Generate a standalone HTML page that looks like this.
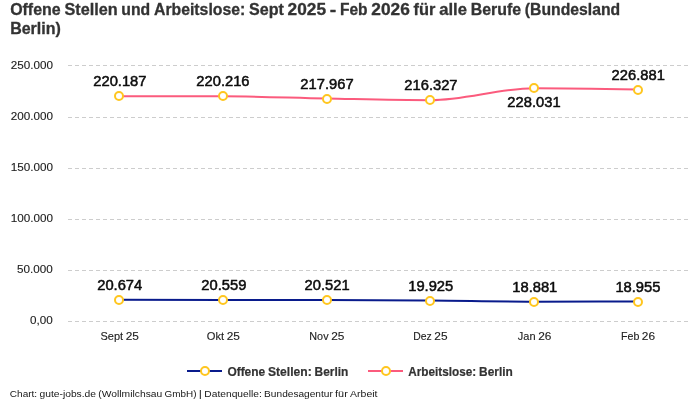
<!DOCTYPE html>
<html lang="de">
<head>
<meta charset="utf-8">
<title>Offene Stellen und Arbeitslose: Berlin</title>
<style>
html,body{margin:0;padding:0;background:#fff;}
body{width:700px;height:400px;overflow:hidden;font-family:"Liberation Sans",sans-serif;}
svg{display:block;}
text{font-family:"Liberation Sans",sans-serif;white-space:pre;}
.title{font-size:15.60px;font-weight:700;fill:#333333;stroke:#333333;stroke-width:0.3px;stroke-linejoin:round;}
.ylab{font-size:11.16px;font-weight:400;fill:#222222;stroke:#222222;stroke-width:0.12px;}
.xlab{font-size:11.16px;font-weight:400;fill:#222222;stroke:#222222;stroke-width:0.12px;}
.dl{font-size:13.80px;font-weight:400;fill:#0d0d0d;stroke:#0d0d0d;stroke-width:0.5px;stroke-linejoin:round;}
.leg{font-size:12.00px;font-weight:700;fill:#333333;stroke:#333333;stroke-width:0.2px;stroke-linejoin:round;}
.foot{font-size:9.90px;font-weight:400;fill:#161616;}
.grid line{stroke:#cdcdcd;stroke-width:1;stroke-dasharray:4 3;shape-rendering:crispEdges;}
.mk circle{fill:#fff;stroke:#ffc61f;stroke-width:2;}
.ln{fill:none;stroke-width:2;stroke-linecap:butt;}
</style>
</head>
<body>
<svg width="700" height="400" viewBox="0 0 700 400" role="img" aria-label="Liniendiagramm: Offene Stellen und Arbeitslose in Berlin">
<rect width="700" height="400" fill="#fff"/>
<g class="grid"><line x1="68" x2="688" y1="65.5" y2="65.5"/><line x1="68" x2="688" y1="117.5" y2="117.5"/><line x1="68" x2="688" y1="168.5" y2="168.5"/><line x1="68" x2="688" y1="219.5" y2="219.5"/><line x1="68" x2="688" y1="270.5" y2="270.5"/><line x1="68" x2="688" y1="321.5" y2="321.5"/></g>
<path class="ln" d="M119.00 299.81 C153.60 299.85 188.20 299.90 222.80 299.93 C257.40 299.95 292.00 299.94 326.60 299.96 C361.20 299.99 395.80 300.29 430.40 300.57 C465.00 300.85 499.60 301.64 534.20 301.64 C568.80 301.64 603.40 301.60 638.00 301.56" stroke="#091b8c"/>
<path class="ln" d="M119.00 96.26 C153.60 96.24 188.20 96.23 222.80 96.23 C257.40 96.23 292.00 97.86 326.60 98.52 C361.20 99.18 395.80 100.20 430.40 100.20 C465.00 100.20 499.60 88.26 534.20 88.26 C568.80 88.26 603.40 88.84 638.00 89.43" stroke="#fb5b7d"/>
<g class="mk"><circle cx="119" cy="300" r="4"/><circle cx="223" cy="300" r="4"/><circle cx="327" cy="300" r="4"/><circle cx="430" cy="301" r="4"/><circle cx="534" cy="302" r="4"/><circle cx="638" cy="302" r="4"/><circle cx="119" cy="96" r="4"/><circle cx="223" cy="96" r="4"/><circle cx="327" cy="99" r="4"/><circle cx="430" cy="100" r="4"/><circle cx="534" cy="88" r="4"/><circle cx="638" cy="90" r="4"/></g>
<g class="legend">
<line x1="187" x2="222" y1="371" y2="371" stroke="#091b8c" stroke-width="2"/>
<circle cx="205" cy="371" r="4" fill="#fff" stroke="#ffc61f" stroke-width="2"/>
<line x1="368" x2="403" y1="371" y2="371" stroke="#fb5b7d" stroke-width="2"/>
<circle cx="386" cy="371" r="4" fill="#fff" stroke="#ffc61f" stroke-width="2"/>
</g>
<g class="labels">
<text class="title" y="15.00"><tspan x="10.15" textLength="50.56" lengthAdjust="spacingAndGlyphs">Offene</tspan> <tspan x="64.48" textLength="53.14" lengthAdjust="spacingAndGlyphs">Stellen</tspan> <tspan x="121.37" textLength="28.85" lengthAdjust="spacingAndGlyphs">und</tspan> <tspan x="153.99" textLength="91.25" lengthAdjust="spacingAndGlyphs">Arbeitslose:</tspan> <tspan x="248.99" textLength="34.81" lengthAdjust="spacingAndGlyphs">Sept</tspan> <tspan x="287.55" textLength="38.47" lengthAdjust="spacingAndGlyphs">2025</tspan> <tspan x="329.77" textLength="6.48" lengthAdjust="spacingAndGlyphs">-</tspan> <tspan x="340.01" textLength="27.61" lengthAdjust="spacingAndGlyphs">Feb</tspan> <tspan x="371.39" textLength="38.45" lengthAdjust="spacingAndGlyphs">2026</tspan> <tspan x="413.61" textLength="21.82" lengthAdjust="spacingAndGlyphs">für</tspan> <tspan x="439.19" textLength="27.72" lengthAdjust="spacingAndGlyphs">alle</tspan> <tspan x="470.68" textLength="50.43" lengthAdjust="spacingAndGlyphs">Berufe</tspan> <tspan x="524.88" textLength="95.28" lengthAdjust="spacingAndGlyphs">(Bundesland</tspan></text>
<text class="title" y="34.00"><tspan x="10.15" textLength="50.66" lengthAdjust="spacingAndGlyphs">Berlin)</tspan></text>
<text class="ylab" x="10.71" y="69.00" textLength="42.21" lengthAdjust="spacingAndGlyphs">250.000</text>
<text class="ylab" x="10.71" y="120.00" textLength="42.21" lengthAdjust="spacingAndGlyphs">200.000</text>
<text class="ylab" x="10.71" y="171.00" textLength="42.21" lengthAdjust="spacingAndGlyphs">150.000</text>
<text class="ylab" x="10.71" y="222.00" textLength="42.21" lengthAdjust="spacingAndGlyphs">100.000</text>
<text class="ylab" x="17.13" y="273.00" textLength="35.71" lengthAdjust="spacingAndGlyphs">50.000</text>
<text class="ylab" x="30.10" y="324.00" textLength="22.73" lengthAdjust="spacingAndGlyphs">0,00</text>
<text class="xlab" y="340.00"><tspan x="100.49" textLength="22.61" lengthAdjust="spacingAndGlyphs">Sept</tspan> <tspan x="125.67" textLength="13.22" lengthAdjust="spacingAndGlyphs">25</tspan></text>
<text class="xlab" y="340.00"><tspan x="206.80" textLength="17.34" lengthAdjust="spacingAndGlyphs">Okt</tspan> <tspan x="226.72" textLength="13.22" lengthAdjust="spacingAndGlyphs">25</tspan></text>
<text class="xlab" y="340.00"><tspan x="309.31" textLength="19.27" lengthAdjust="spacingAndGlyphs">Nov</tspan> <tspan x="331.16" textLength="13.22" lengthAdjust="spacingAndGlyphs">25</tspan></text>
<text class="xlab" y="340.00"><tspan x="413.25" textLength="18.48" lengthAdjust="spacingAndGlyphs">Dez</tspan> <tspan x="434.31" textLength="13.20" lengthAdjust="spacingAndGlyphs">25</tspan></text>
<text class="xlab" y="340.00"><tspan x="517.84" textLength="17.73" lengthAdjust="spacingAndGlyphs">Jan</tspan> <tspan x="538.15" textLength="13.22" lengthAdjust="spacingAndGlyphs">26</tspan></text>
<text class="xlab" y="340.00"><tspan x="621.01" textLength="18.30" lengthAdjust="spacingAndGlyphs">Feb</tspan> <tspan x="641.89" textLength="13.22" lengthAdjust="spacingAndGlyphs">26</tspan></text>
<text class="dl" x="93.29" y="86.00" textLength="53.21" lengthAdjust="spacingAndGlyphs">220.187</text>
<text class="dl" x="196.34" y="86.00" textLength="53.21" lengthAdjust="spacingAndGlyphs">220.216</text>
<text class="dl" x="300.39" y="89.00" textLength="53.21" lengthAdjust="spacingAndGlyphs">217.967</text>
<text class="dl" x="404.34" y="90.00" textLength="53.21" lengthAdjust="spacingAndGlyphs">216.327</text>
<text class="dl" x="507.39" y="107.00" textLength="53.21" lengthAdjust="spacingAndGlyphs">228.031</text>
<text class="dl" x="611.64" y="80.00" textLength="53.21" lengthAdjust="spacingAndGlyphs">226.881</text>
<text class="dl" x="97.23" y="290.00" textLength="45.03" lengthAdjust="spacingAndGlyphs">20.674</text>
<text class="dl" x="201.36" y="290.00" textLength="45.03" lengthAdjust="spacingAndGlyphs">20.559</text>
<text class="dl" x="304.63" y="290.00" textLength="45.03" lengthAdjust="spacingAndGlyphs">20.521</text>
<text class="dl" x="408.21" y="291.00" textLength="45.03" lengthAdjust="spacingAndGlyphs">19.925</text>
<text class="dl" x="512.28" y="292.00" textLength="45.03" lengthAdjust="spacingAndGlyphs">18.881</text>
<text class="dl" x="615.41" y="292.00" textLength="45.03" lengthAdjust="spacingAndGlyphs">18.955</text>
<text class="leg" y="376.00"><tspan x="227.38" textLength="37.83" lengthAdjust="spacingAndGlyphs">Offene</tspan> <tspan x="268.03" textLength="43.71" lengthAdjust="spacingAndGlyphs">Stellen:</tspan> <tspan x="314.55" textLength="33.79" lengthAdjust="spacingAndGlyphs">Berlin</tspan></text>
<text class="leg" y="376.00"><tspan x="408.25" textLength="68.02" lengthAdjust="spacingAndGlyphs">Arbeitslose:</tspan> <tspan x="479.08" textLength="33.67" lengthAdjust="spacingAndGlyphs">Berlin</tspan></text>
<text class="foot" y="397.00"><tspan x="9.80" textLength="27.37" lengthAdjust="spacingAndGlyphs">Chart:</tspan> <tspan x="39.51" textLength="56.51" lengthAdjust="spacingAndGlyphs">gute-jobs.de</tspan> <tspan x="98.37" textLength="63.87" lengthAdjust="spacingAndGlyphs">(Wollmilchsau</tspan> <tspan x="164.58" textLength="31.90" lengthAdjust="spacingAndGlyphs">GmbH)</tspan> <tspan x="198.82" textLength="3.16" lengthAdjust="spacingAndGlyphs">|</tspan> <tspan x="204.32" textLength="57.48" lengthAdjust="spacingAndGlyphs">Datenquelle:</tspan> <tspan x="264.14" textLength="68.65" lengthAdjust="spacingAndGlyphs">Bundesagentur</tspan> <tspan x="335.13" textLength="12.61" lengthAdjust="spacingAndGlyphs">für</tspan> <tspan x="350.08" textLength="27.39" lengthAdjust="spacingAndGlyphs">Arbeit</tspan></text>
</g>
</svg>
</body>
</html>
